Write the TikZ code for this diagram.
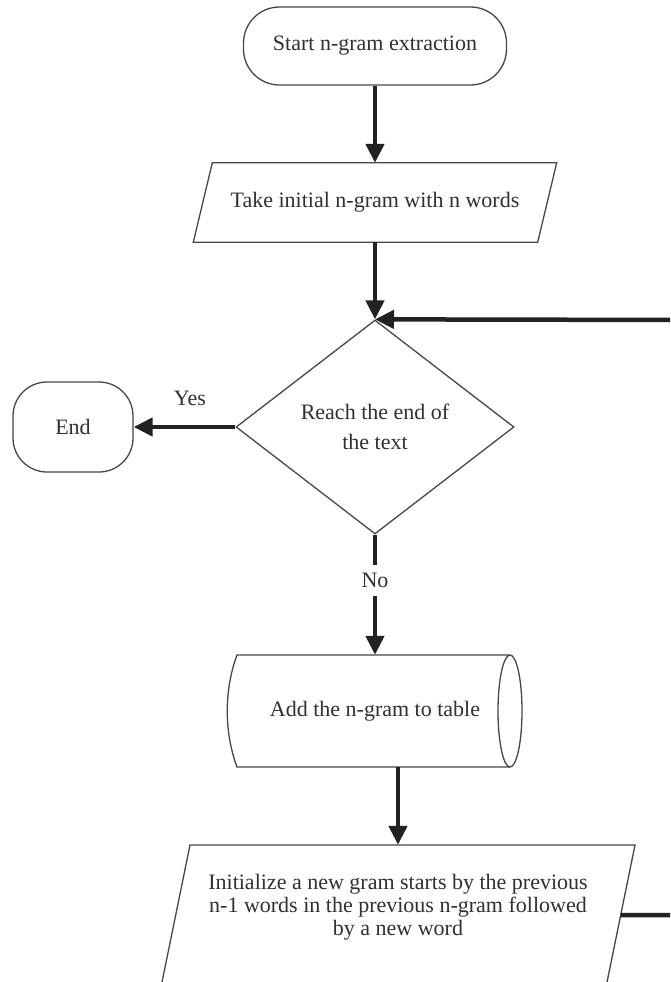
\documentclass[tikz,border=0pt]{standalone}
\usepackage{fontspec}
\setmainfont{Liberation Serif}
\usetikzlibrary{shapes.geometric,arrows.meta}
\definecolor{ink}{HTML}{222222}
\definecolor{edgec}{HTML}{474747}
\definecolor{txt}{HTML}{303030}
\begin{document}
\begin{tikzpicture}[x=1pt,y=-1pt,
  box/.style={draw=edgec, line width=1.3pt, text=txt, font=\fontsize{22}{23}\selectfont, inner sep=0pt, align=center},
  ghost/.style={text=txt, font=\fontsize{22}{23}\selectfont, inner sep=0pt, align=center},
  lbl/.style={text=txt, font=\fontsize{22}{23}\selectfont, inner sep=0pt},
  conn/.style={draw=ink, line width=4.5pt, -{Triangle[length=19pt,width=18pt]}},
  outline/.style={draw=edgec, line width=1.3pt}]
\useasboundingbox (0,0) rectangle (670,982);
\clip (0,0) rectangle (670,982);
\fill[white] (0,0) rectangle (670,982);

% Start
\node[box, rounded corners=36pt, minimum width=263pt, minimum height=78pt] (start) at (375,46) {Start n-gram extraction};

% Input parallelogram 1
\node[ghost, minimum width=344pt, minimum height=79pt] (p1) at (375,202.5) {Take initial n-gram with n words};
\draw[outline] ([xshift=9.5pt]p1.north west) -- ([xshift=9.5pt]p1.north east)
  -- ([xshift=-9.5pt]p1.south east) -- ([xshift=-9.5pt]p1.south west) -- cycle;

% Decision
\node[box, diamond, minimum width=278pt, minimum height=214pt, font=\fontsize{22}{30}\selectfont] (dec) at (375,427) {Reach the end of\\the text};

% End
\node[box, rounded corners=34pt, minimum width=120pt, minimum height=90pt] (end) at (73,427) {End};
\node[lbl] (yes) at (190,398) {Yes};

% Storage
\node[ghost, minimum width=294pt, minimum height=112pt] (cyl) at (375,711) {Add the n-gram to table};
\draw[outline] (510,655) -- (237,655) .. controls (224,690) and (224,732) .. (237,767) -- (510,767);
\draw[outline] (510,711) ellipse [x radius=12pt, y radius=56pt];

% Parallelogram 2
\node[ghost, minimum width=445pt, minimum height=124pt] (p2) at (398,907) {Initialize a new gram starts by the previous\\n-1 words in the previous n-gram followed\\by a new word};
\draw[outline] (190,845) -- (635,845) -- (605.4,990) -- (160.4,990) -- cycle;

% Connectors
\draw[conn] (start.south) -- (start.south |- p1.north);
\draw[conn] (p1.south) -- (dec.north);
\draw[conn] (dec.west) -- (end.east);
\draw[conn] (dec.south) -- node[pos=0.38, fill=white, lbl, inner sep=8pt] (no) {No} (cyl.north);
\draw[conn] (p2.north |- cyl.south) -- (p2.north);
\coordinate (pe) at (620.7,915);
\coordinate (loopB) at (690,915);
\coordinate (loopT) at (690,320);
\draw[conn] (pe) -- (loopB) -- (loopT) -- (dec.north);
\end{tikzpicture}
\end{document}
